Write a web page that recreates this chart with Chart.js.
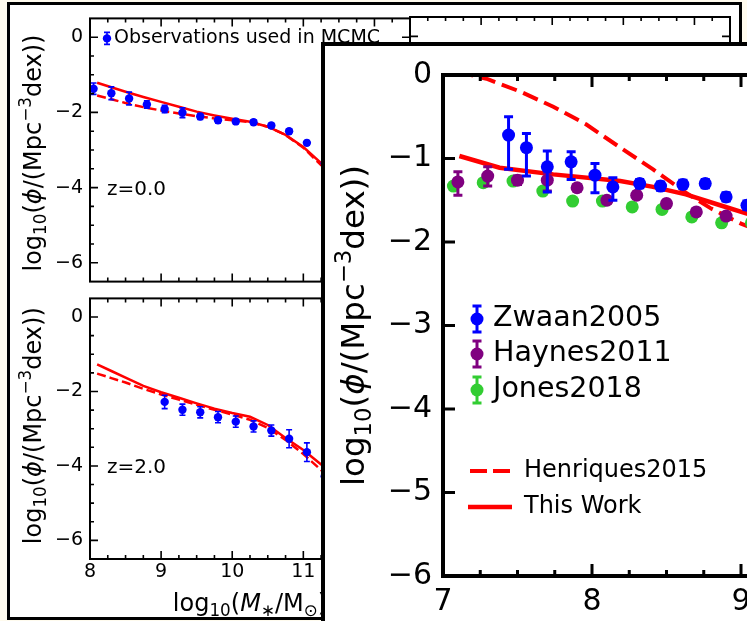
<!DOCTYPE html>
<html>
<head>
<meta charset="utf-8">
<script src="https://cdn.jsdelivr.net/npm/chart.js@4"></script>
<style>
html, body { margin: 0; padding: 0; width: 747px; height: 621px; overflow: hidden; background: #fffbee; }
#back { position: absolute; left: 7px; top: 2px; width: 735px; height: 618px; border: 3px solid #000; box-sizing: border-box; background: #fff; }
#front { position: absolute; left: 321px; top: 42px; width: 620px; height: 700px; border: 4px solid #000; box-sizing: border-box; background: #fff; }
canvas { position: absolute; }
</style>
</head>
<body>
<div id="back"></div>
<canvas id="c1" width="420" height="300" style="left:0;top:0"></canvas>
<canvas id="c3" width="340" height="300" style="left:400px;top:0"></canvas>
<canvas id="c2" width="420" height="339" style="left:0;top:280px"></canvas>
<div id="front"><canvas id="c4" width="612" height="692" style="left:0;top:0"></canvas></div>
<script>
const FONT = "'DejaVu Sans', sans-serif";
const BLUE = '#0000ff', PURPLE = '#800080', GREEN = '#32cd32', RED = '#ff0000';

// back panels (stellar mass function, z=0 and z=2)
const smfX   = [8.05, 8.3, 8.55, 8.8, 9.05, 9.3, 9.55, 9.8, 10.05, 10.3, 10.55, 10.8, 11.05, 11.3];
const obsZ0  = [-1.37, -1.49, -1.63, -1.79, -1.91, -2.01, -2.11, -2.21, -2.24, -2.26, -2.35, -2.50, -2.81, -3.35];
const errZ0  = [0.15, 0.17, 0.17, 0.10, 0.10, 0.13, 0.08, 0.07, 0.06, 0.06, 0.06, 0.06, 0.06, 0.08];
const smfX2  = [9.05, 9.3, 9.55, 9.8, 10.05, 10.3, 10.55, 10.8, 11.05, 11.3];
const obsZ2  = [-2.28, -2.49, -2.56, -2.69, -2.81, -2.94, -3.05, -3.27, -3.63, -4.28];
const errZ2  = [0.18, 0.15, 0.15, 0.15, 0.15, 0.15, 0.15, 0.24, 0.25, 0.20];
const modelX = [8.1, 8.3, 8.5, 8.75, 9.0, 9.25, 9.5, 9.75, 10.0, 10.25, 10.5, 10.75, 11.0, 11.25, 11.5];
const thisWorkZ0  = [-1.21, -1.33, -1.45, -1.59, -1.72, -1.85, -1.98, -2.08, -2.17, -2.25, -2.38, -2.60, -2.92, -3.35, -3.90];
const henriquesZ0 = [-1.55, -1.65, -1.75, -1.86, -1.95, -2.03, -2.10, -2.16, -2.21, -2.26, -2.38, -2.60, -2.94, -3.40, -3.95];
const thisWorkZ2  = [-1.27, -1.45, -1.63, -1.85, -2.02, -2.17, -2.32, -2.46, -2.58, -2.68, -2.90, -3.25, -3.57, -3.96, -4.40];
const henriquesZ2 = [-1.52, -1.64, -1.76, -1.93, -2.08, -2.22, -2.36, -2.49, -2.62, -2.76, -2.98, -3.30, -3.68, -4.11, -4.55];
const backXTicks = [8, 9, 10, 11, 12];
const backYTicks = [-6, -4, -2, 0];

// front panel (HI mass function)
const zwaanX  = [7.44, 7.56, 7.70, 7.86, 8.02, 8.14, 8.32, 8.46, 8.61, 8.76, 8.90, 9.04];
const zwaanY  = [-0.72, -0.87, -1.10, -1.04, -1.20, -1.34, -1.30, -1.33, -1.31, -1.30, -1.46, -1.56];
const zwaanUp = [0.22, 0.17, 0.19, 0.12, 0.14, 0.11, 0.05, 0.05, 0.05, 0.05, 0.05, 0.05];
const zwaanDn = [0.41, 0.34, 0.30, 0.21, 0.21, 0.16, 0.05, 0.05, 0.05, 0.05, 0.05, 0.05];
const haynesX  = [7.10, 7.30, 7.50, 7.70, 7.90, 8.10, 8.30, 8.50, 8.70, 8.90, 9.10];
const haynesY  = [-1.28, -1.21, -1.26, -1.26, -1.35, -1.50, -1.44, -1.54, -1.64, -1.69, -1.75];
const haynesUp = [0.12, 0.11, 0.05, 0.09, 0.04, 0.04, 0.04, 0.04, 0.04, 0.04, 0.04];
const haynesDn = [0.16, 0.12, 0.05, 0.13, 0.04, 0.04, 0.04, 0.04, 0.04, 0.04, 0.04];
const jonesX   = [7.07, 7.27, 7.47, 7.67, 7.87, 8.07, 8.27, 8.47, 8.67, 8.87, 9.07];
const jonesY   = [-1.33, -1.29, -1.27, -1.39, -1.51, -1.51, -1.58, -1.61, -1.70, -1.77, -1.77];
const jonesErr = [0.03, 0.03, 0.03, 0.03, 0.03, 0.03, 0.03, 0.03, 0.03, 0.03, 0.03];
const henriquesX = [7.10, 7.19, 7.30, 7.52, 7.74, 7.96, 8.19, 8.41, 8.63, 8.80, 9.00, 9.20];
const henriquesY = [0.05, 0.0, -0.05, -0.20, -0.38, -0.59, -0.87, -1.13, -1.41, -1.60, -1.78, -1.92];
const thisWorkX  = [7.11, 7.38, 7.74, 8.19, 8.41, 8.63, 8.86, 9.04, 9.30];
const thisWorkY  = [-0.97, -1.11, -1.19, -1.27, -1.34, -1.43, -1.56, -1.66, -1.80];
const frontXTicks = [7, 8, 9, 10];
const frontYTicks = [-6, -5, -4, -3, -2, -1, 0];

// axis titles as pieces: [text, style]  (sub / sup / it)
const Y_TITLE = [['log'], ['10', 'sub'], ['('], ['\u03d5', 'it'], ['/(Mpc'], ['\u22123', 'sup'], ['dex))']];
const X_TITLE = [['log'], ['10', 'sub'], ['('], ['M', 'it'], ['\u2217', 'sub'], ['/M'], ['\u2299', 'sub'], [')']];

function pts(xs, ys) { return xs.map((x, i) => ({ x: x, y: ys[i] })); }
function fmt(v) { return (v < 0 ? '\u2212' : '') + Math.abs(v); }

// spines on all four sides with inward major/minor ticks
const frameTicks = {
  id: 'frameTicks',
  afterDatasetsDraw(chart, args, o) {
    const { ctx, chartArea: a, scales: { x, y } } = chart;
    ctx.save();
    ctx.strokeStyle = '#000';
    ctx.lineWidth = o.tickWidth;
    ctx.beginPath();
    const n = Math.round((x.max - x.min) / o.xMinor);
    for (let i = 1; i < n; i++) {
      const v = Math.round((x.min + i * o.xMinor) * 1000) / 1000;
      const len = o.xMajor.includes(v) ? o.major : o.minor;
      const px = x.getPixelForValue(v);
      ctx.moveTo(px, a.bottom); ctx.lineTo(px, a.bottom - len);
      ctx.moveTo(px, a.top); ctx.lineTo(px, a.top + len);
    }
    const yv = [];
    if (o.yMinor) {
      const m = Math.round((y.max - y.min) / o.yMinor);
      for (let i = 1; i < m; i++) yv.push(Math.round((y.min + i * o.yMinor) * 1000) / 1000);
    } else {
      o.yMajor.forEach(v => { if (v > y.min && v < y.max) yv.push(v); });
    }
    yv.forEach(v => {
      const len = o.yMajor.includes(v) ? o.major : o.minor;
      const py = y.getPixelForValue(v);
      ctx.moveTo(a.left, py); ctx.lineTo(a.left + len, py);
      ctx.moveTo(a.right, py); ctx.lineTo(a.right - len, py);
    });
    ctx.stroke();
    ctx.lineWidth = o.spineWidth;
    ctx.strokeRect(a.left, a.top, a.right - a.left, a.bottom - a.top);
    ctx.restore();
  }
};

// vertical error bars with caps, drawn under each dataset's markers
const errorBars = {
  id: 'errorBars',
  beforeDatasetDraw(chart, args, o) {
    const ds = chart.data.datasets[args.index];
    if (!ds.errUp) return;
    const { ctx, chartArea: a, scales: { x, y } } = chart;
    ctx.save();
    ctx.beginPath();
    ctx.rect(a.left, a.top, a.right - a.left, a.bottom - a.top);
    ctx.clip();
    ctx.strokeStyle = ds.backgroundColor;
    ctx.lineWidth = o.width;
    ctx.beginPath();
    ds.data.forEach((p, i) => {
      const px = x.getPixelForValue(p.x);
      const top = y.getPixelForValue(p.y + ds.errUp[i]);
      const bot = y.getPixelForValue(p.y - ds.errDown[i]);
      ctx.moveTo(px, top); ctx.lineTo(px, bot);
      ctx.moveTo(px - o.cap, top); ctx.lineTo(px + o.cap, top);
      ctx.moveTo(px - o.cap, bot); ctx.lineTo(px + o.cap, bot);
    });
    ctx.stroke();
    ctx.restore();
  }
};

// legend entries and panel notes, placed relative to the chart area
const keyBox = {
  id: 'keyBox',
  afterDraw(chart, args, o) {
    const { ctx, chartArea: a } = chart;
    ctx.save();
    (o.items || []).forEach(it => {
      const x = a.left + it.dx, y = a.top + it.dy;
      if (it.type === 'err') {
        ctx.strokeStyle = it.color; ctx.lineWidth = it.lw;
        ctx.beginPath();
        ctx.moveTo(x, y - it.bar); ctx.lineTo(x, y + it.bar);
        ctx.moveTo(x - it.cap, y - it.bar); ctx.lineTo(x + it.cap, y - it.bar);
        ctx.moveTo(x - it.cap, y + it.bar); ctx.lineTo(x + it.cap, y + it.bar);
        ctx.stroke();
        ctx.fillStyle = it.color;
        ctx.beginPath(); ctx.arc(x, y, it.r, 0, Math.PI * 2); ctx.fill();
      } else if (it.type === 'line') {
        ctx.strokeStyle = it.color; ctx.lineWidth = it.lw;
        ctx.setLineDash(it.dash || []);
        ctx.beginPath(); ctx.moveTo(x, y); ctx.lineTo(x + it.len, y); ctx.stroke();
        ctx.setLineDash([]);
      }
      if (it.label) {
        ctx.fillStyle = '#000';
        ctx.font = it.size + 'px ' + FONT;
        ctx.textAlign = 'left';
        ctx.textBaseline = 'middle';
        ctx.fillText(it.label, a.left + it.tx, y);
      }
    });
    ctx.restore();
  }
};

// axis titles with sub/superscripts (mathtext look)
function richFont(style, size) {
  const s = (style === 'sub' || style === 'sup') ? size * 0.7 : size;
  return (style === 'it' ? 'italic ' : '') + s + 'px ' + FONT;
}
function drawRich(ctx, segs, size) {
  let w = 0;
  const widths = segs.map(sg => { ctx.font = richFont(sg[1], size); const m = ctx.measureText(sg[0]).width; w += m; return m; });
  let x = -w / 2;
  segs.forEach((sg, i) => {
    ctx.font = richFont(sg[1], size);
    const dy = sg[1] === 'sub' ? size * 0.22 : sg[1] === 'sup' ? -size * 0.4 : 0;
    ctx.fillText(sg[0], x, dy);
    x += widths[i];
  });
}
const axisTitles = {
  id: 'axisTitles',
  afterDraw(chart, args, o) {
    const { ctx, chartArea: a } = chart;
    ctx.save();
    ctx.fillStyle = '#000';
    ctx.textAlign = 'left';
    ctx.textBaseline = 'alphabetic';
    if (o.y) {
      ctx.save();
      ctx.translate(a.left - o.y.off, (a.top + a.bottom) / 2 + (o.y.shift || 0));
      ctx.rotate(-Math.PI / 2);
      drawRich(ctx, o.y.segs, o.y.size);
      ctx.restore();
    }
    if (o.x) {
      ctx.save();
      ctx.translate((a.left + a.right) / 2, a.bottom + o.x.off);
      drawRich(ctx, o.x.segs, o.x.size);
      ctx.restore();
    }
    ctx.restore();
  }
};

Chart.register(frameTicks, errorBars, keyBox, axisTitles);

function yAxis(min, max, ticks, width, size, pad) {
  return {
    type: 'linear', position: 'left', min: min, max: max,
    afterBuildTicks: s => { s.ticks = ticks.map(v => ({ value: v })); },
    afterFit: s => { s.width = width; },
    grid: { display: false, drawTicks: false },
    border: { display: false },
    ticks: { color: '#000', padding: pad, font: { family: FONT, size: size }, callback: v => fmt(v) }
  };
}
function xAxis(min, max, ticks, height, size, pad) {
  return {
    type: 'linear', position: 'bottom', min: min, max: max,
    afterBuildTicks: s => { s.ticks = ticks.map(v => ({ value: v })); },
    afterFit: s => { s.height = height; },
    grid: { display: false, drawTicks: false },
    border: { display: false },
    ticks: { color: '#000', padding: pad, maxRotation: 0, autoSkip: false, font: { family: FONT, size: size }, callback: v => fmt(v) }
  };
}
function hiddenAxis(min, max, pos) {
  return { type: 'linear', position: pos, min: min, max: max, display: false };
}
const backYTitle = { segs: Y_TITLE, size: 24, off: 49, shift: 3 };
const backFrame = { spineWidth: 2, tickWidth: 1.6, major: 8, minor: 4, xMinor: 0.25, xMajor: backXTicks, yMinor: 0.5, yMajor: backYTicks };
const base = { responsive: false, animation: false, events: [] };

function backSet(x, obs, err, tw, hq) {
  return [
    { data: pts(x, obs), errUp: err, errDown: err, backgroundColor: BLUE, pointRadius: 4.2, borderWidth: 0, order: 1 },
    { data: pts(modelX, hq), showLine: true, borderColor: RED, borderWidth: 2.5, borderDash: [9, 4], pointRadius: 0, order: 3 },
    { data: pts(modelX, tw), showLine: true, borderColor: RED, borderWidth: 2.5, pointRadius: 0, order: 2 }
  ];
}

// top-left back panel, z=0
new Chart(document.getElementById('c1'), {
  type: 'scatter',
  data: { datasets: backSet(smfX, obsZ0, errZ0, thisWorkZ0, henriquesZ0) },
  options: Object.assign({}, base, {
    layout: { padding: { left: 0, top: 17, right: 10, bottom: 12 } },
    scales: { x: hiddenAxis(8, 12.5, 'bottom'), y: yAxis(-6.5, 0.5, backYTicks, 90, 19, 7) },
    plugins: {
      legend: { display: false }, tooltip: { enabled: false },
      frameTicks: backFrame,
      errorBars: { width: 1.6, cap: 3 },
      axisTitles: { y: backYTitle },
      keyBox: { items: [
        { type: 'err', color: BLUE, lw: 1.6, bar: 6, cap: 3, r: 4.2, dx: 17, dy: 20, label: 'Observations used in MCMC', tx: 24, size: 19 },
        { type: 'text', dx: 17, dy: 171, label: 'z=0.0', tx: 17, size: 20 }
      ] }
    }
  })
});

// top-right back panel (only its top edge shows)
new Chart(document.getElementById('c3'), {
  type: 'scatter',
  data: { datasets: [] },
  options: Object.assign({}, base, {
    layout: { padding: { left: 10, top: 17, right: 10, bottom: 12 } },
    scales: { x: hiddenAxis(8, 12.5, 'bottom'), y: hiddenAxis(-6.5, 0.5, 'left') },
    plugins: { legend: { display: false }, tooltip: { enabled: false }, frameTicks: backFrame }
  })
});

// bottom-left back panel, z=2
new Chart(document.getElementById('c2'), {
  type: 'scatter',
  data: { datasets: backSet(smfX2, obsZ2, errZ2, thisWorkZ2, henriquesZ2) },
  options: Object.assign({}, base, {
    layout: { padding: { left: 0, top: 9, right: 10, bottom: 0 } },
    scales: { x: xAxis(8, 12.5, backXTicks, 60, 19, 2), y: yAxis(-6.5, 0.5, backYTicks, 90, 19, 7) },
    plugins: {
      legend: { display: false }, tooltip: { enabled: false },
      frameTicks: backFrame,
      errorBars: { width: 1.6, cap: 3 },
      axisTitles: { y: Object.assign({}, backYTitle, { shift: -3 }), x: { segs: X_TITLE, size: 24, off: 52 } },
      keyBox: { items: [ { type: 'text', dx: 17, dy: 169, label: 'z=2.0', tx: 17, size: 20 } ] }
    }
  })
});

// front panel, HI mass function
new Chart(document.getElementById('c4'), {
  type: 'scatter',
  data: { datasets: [
    { data: pts(henriquesX, henriquesY), showLine: true, borderColor: RED, borderWidth: 4, borderDash: [16, 7], pointRadius: 0, order: 5 },
    { data: pts(thisWorkX, thisWorkY), showLine: true, borderColor: RED, borderWidth: 4.5, pointRadius: 0, order: 4 },
    { data: pts(jonesX, jonesY), errUp: jonesErr, errDown: jonesErr, backgroundColor: GREEN, pointRadius: 6.5, borderWidth: 0, order: 3 },
    { data: pts(haynesX, haynesY), errUp: haynesUp, errDown: haynesDn, backgroundColor: PURPLE, pointRadius: 6.5, borderWidth: 0, order: 2 },
    { data: pts(zwaanX, zwaanY), errUp: zwaanUp, errDown: zwaanDn, backgroundColor: BLUE, pointRadius: 6.5, borderWidth: 0, order: 1 }
  ] },
  options: Object.assign({}, base, {
    layout: { padding: { left: 0, top: 22, right: 47, bottom: 0 } },
    scales: { x: xAxis(7, 10, frontXTicks, 162, 30, 8), y: yAxis(-6, 0, frontYTicks, 118, 30, 11) },
    plugins: {
      legend: { display: false }, tooltip: { enabled: false },
      frameTicks: { spineWidth: 4, tickWidth: 3, major: 12, minor: 6, xMinor: 0.25, xMajor: frontXTicks, yMinor: 0, yMajor: frontYTicks },
      errorBars: { width: 3, cap: 4.5 },
      axisTitles: { y: { segs: Y_TITLE, size: 32.5, off: 79 } },
      keyBox: { items: [
        { type: 'err', color: BLUE, lw: 3, bar: 13, cap: 4.5, r: 6.5, dx: 34, dy: 244, label: 'Zwaan2005', tx: 50, size: 28.5 },
        { type: 'err', color: PURPLE, lw: 3, bar: 13, cap: 4.5, r: 6.5, dx: 34, dy: 279, label: 'Haynes2011', tx: 50, size: 28.5 },
        { type: 'err', color: GREEN, lw: 3, bar: 13, cap: 4.5, r: 6.5, dx: 34, dy: 315, label: 'Jones2018', tx: 50, size: 28.5 },
        { type: 'line', color: RED, lw: 4, dash: [17, 6], len: 40, dx: 27, dy: 396, label: 'Henriques2015', tx: 81, size: 24 },
        { type: 'line', color: RED, lw: 4.5, len: 44, dx: 25, dy: 432, label: 'This Work', tx: 81, size: 24 }
      ] }
    }
  })
});
</script>
</body>
</html>
